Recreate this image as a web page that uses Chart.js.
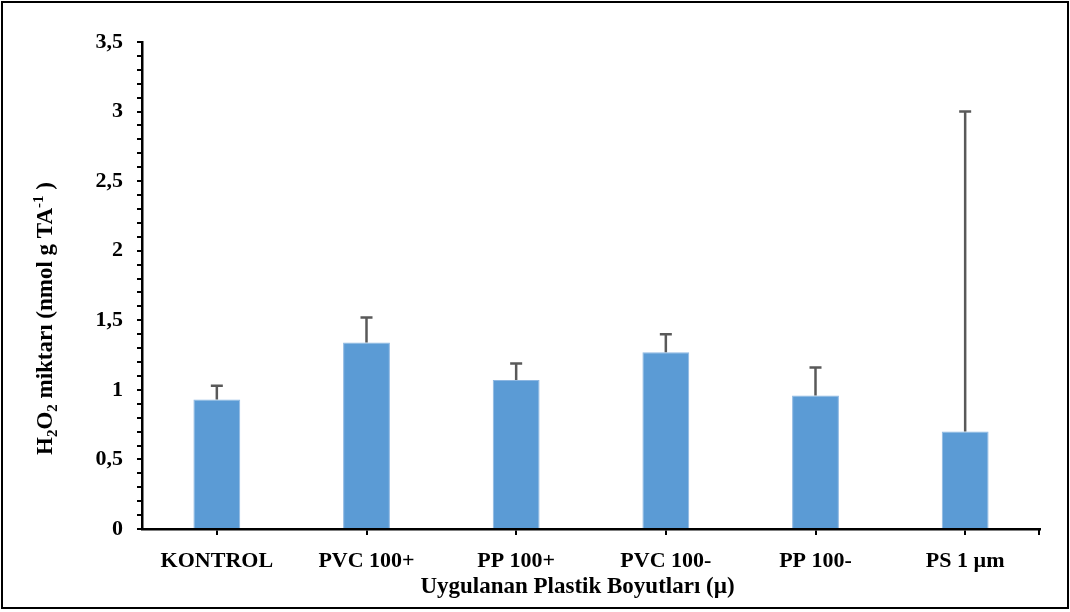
<!DOCTYPE html>
<html lang="tr">
<head>
  <meta charset="UTF-8">
  <title>H2O2 miktarı</title>
  <script src="https://cdn.jsdelivr.net/npm/chart.js"></script>
  <style>
    html, body {
      margin: 0;
      padding: 0;
      background: #fff;
    }
    #wrap {
      position: relative;
      width: 1070px;
      height: 612px;
    }
    #chart {
      position: absolute;
      left: 0;
      top: 0;
    }
    #frame {
      position: absolute;
      left: 1px;
      top: 1px;
      width: 1068px;
      height: 608px;
      border: 2px solid #000;
      box-sizing: border-box;
      pointer-events: none;
    }
  </style>
</head>
<body>
  <div id="wrap">
    <canvas id="chart" width="1070" height="612"></canvas>
    <div id="frame"></div>
  </div>

  <script>
    const categories = ['KONTROL', 'PVC 100+', 'PP 100+', 'PVC 100-', 'PP 100-', 'PS 1 µm'];
    const means = [0.93, 1.34, 1.07, 1.27, 0.96, 0.70];
    const errors = [0.10, 0.18, 0.12, 0.13, 0.20, 2.30];
    const yMax = 3.5;
    const xTitle = 'Uygulanan Plastik Boyutları (µ)';

    const FONT = '"Liberation Serif", "Times New Roman", serif';

    // error bars (upper only) drawn from the bar top
    const errorBars = {
      id: 'errorBars',
      afterDatasetsDraw(chart) {
        const ctx = chart.ctx;
        const y = chart.scales.y;
        const meta = chart.getDatasetMeta(0);
        ctx.save();
        ctx.strokeStyle = '#595959';
        ctx.lineWidth = 2.5;
        meta.data.forEach((bar, i) => {
          const top = y.getPixelForValue(means[i] + errors[i]);
          ctx.beginPath();
          ctx.moveTo(bar.x, bar.y);
          ctx.lineTo(bar.x, top);
          ctx.moveTo(bar.x - 6, top);
          ctx.lineTo(bar.x + 6, top);
          ctx.stroke();
        });
        // closing tick at the right end of the category axis
        const x = chart.scales.x;
        ctx.strokeStyle = '#000';
        ctx.lineWidth = 2;
        ctx.beginPath();
        ctx.moveTo(x.right - 1, x.top);
        ctx.lineTo(x.right - 1, x.top + 6);
        ctx.stroke();
        ctx.restore();
      }
    };

    // axis titles with sub/superscripts
    const axisTitles = {
      id: 'axisTitles',
      afterDraw(chart) {
        const ctx = chart.ctx;
        const area = chart.chartArea;
        ctx.save();
        ctx.fillStyle = '#000';
        ctx.textBaseline = 'alphabetic';

        // x title
        ctx.font = 'bold 23px ' + FONT;
        ctx.textAlign = 'center';
        ctx.fillText(xTitle, area.left + (area.right - area.left) * 0.485, 593);

        // y title
        const parts = [
          { t: 'H', size: 23, dy: 0 },
          { t: '2', size: 15, dy: 5 },
          { t: 'O', size: 23, dy: 0 },
          { t: '2', size: 15, dy: 5 },
          { t: ' miktarı (nmol g TA', size: 23, dy: 0 },
          { t: '-1', size: 15, dy: -9 },
          { t: ' )', size: 23, dy: 0 }
        ];
        ctx.textAlign = 'left';
        let total = 0;
        parts.forEach(p => {
          ctx.font = 'bold ' + p.size + 'px ' + FONT;
          p.w = ctx.measureText(p.t).width;
          total += p.w;
        });
        ctx.translate(52, (area.top + area.bottom) / 2 + 33);
        ctx.rotate(-Math.PI / 2);
        let x = -total / 2;
        parts.forEach(p => {
          ctx.font = 'bold ' + p.size + 'px ' + FONT;
          ctx.fillText(p.t, x, p.dy);
          x += p.w;
        });
        ctx.restore();
      }
    };

    new Chart(document.getElementById('chart'), {
      type: 'bar',
      data: {
        labels: categories,
        datasets: [{
          data: means,
          backgroundColor: '#5B9BD5',
          borderColor: '#8DB7E2',
          borderWidth: 1,
          barPercentage: 1,
          categoryPercentage: 0.313
        }]
      },
      options: {
        responsive: false,
        animation: false,
        devicePixelRatio: 1,
        layout: { padding: { left: 0, right: 30, top: 42, bottom: 0 } },
        plugins: {
          legend: { display: false },
          tooltip: { enabled: false }
        },
        scales: {
          x: {
            offset: true,
            grid: {
              offset: false,
              drawOnChartArea: false,
              drawTicks: true,
              tickLength: 6,
              color: '#000',
              lineWidth: 2
            },
            border: { display: true, color: '#000', width: 2.5 },
            ticks: {
              color: '#000',
              padding: 13,
              maxRotation: 0,
              font: { family: FONT, size: 22, weight: 'bold' }
            },
            afterFit(scale) { scale.height = 83; }
          },
          y: {
            min: 0,
            max: yMax,
            grid: {
              drawOnChartArea: false,
              drawTicks: true,
              tickLength: 5,
              color: '#000',
              lineWidth: 2
            },
            border: { display: true, color: '#000', width: 2.5 },
            ticks: {
              stepSize: 0.1,
              autoSkip: false,
              color: '#000',
              padding: 14,
              font: { family: FONT, size: 22, weight: 'bold' },
              callback(v) {
                const h = v * 2;
                if (Math.abs(h - Math.round(h)) > 1e-6) return '';
                return String(Math.round(h) / 2).replace('.', ',');
              }
            },
            afterFit(scale) { scale.width = 142; }
          }
        }
      },
      plugins: [errorBars, axisTitles]
    });
  </script>
</body>
</html>
